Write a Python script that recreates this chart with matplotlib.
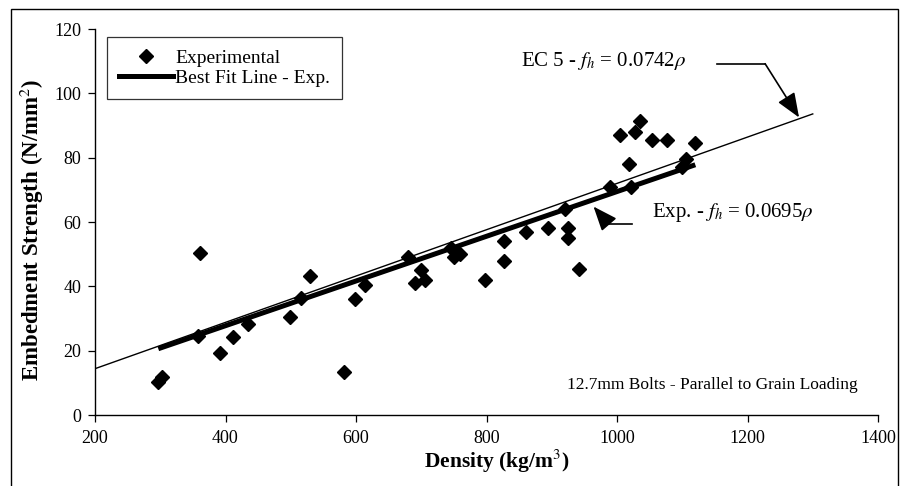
import matplotlib
matplotlib.use("Agg")
import matplotlib.pyplot as plt
from matplotlib.patches import Rectangle
from matplotlib.lines import Line2D

plt.rcParams['font.family'] = ['Liberation Serif', 'DejaVu Serif']
plt.rcParams['mathtext.fontset'] = 'stix'

# Experimental data: density (kg/m^3) and embedment strength (N/mm^2)
density = [296, 302, 358, 361, 392, 411, 435, 499, 515, 529, 582, 599, 614,
           680, 690, 700, 705, 745, 750, 760, 797, 827, 827, 861, 894, 921,
           925, 925, 941, 990, 1004, 1018, 1022, 1028, 1035, 1054, 1076,
           1100, 1105, 1120]
strength = [10.2, 11.8, 24.5, 50.3, 19.3, 24.3, 28.3, 30.4, 36.3, 43.2, 13.3,
            36.1, 40.3, 49.0, 41.0, 45.0, 42.0, 52.0, 49.0, 50.0, 42.0, 48.0,
            54.0, 57.0, 58.0, 64.0, 58.0, 55.0, 45.3, 71.0, 87.0, 78.0, 71.0,
            88.0, 91.5, 85.5, 85.5, 77.0, 79.5, 84.5]

# Lines
ec5_x = [200, 1300]
ec5_y = [14.4, 93.6]
fit_x = [297, 1120]
fit_y = [20.6, 77.8]

xticks = [200, 400, 600, 800, 1000, 1200, 1400]
yticks = [0, 20, 40, 60, 80, 100, 120]

fig = plt.figure(figsize=(9.04, 4.86), dpi=100)
ax = fig.add_axes([95/904, 1-415/486, (878-95)/904, (415-29)/486])

ax.plot(ec5_x, ec5_y, color='black', lw=1.0, zorder=2)
ax.plot(fit_x, fit_y, color='black', lw=3.6, zorder=3, solid_capstyle='butt')
ax.plot(density, strength, linestyle='none', marker='D', markersize=7.4,
        color='black', zorder=4)

ax.set_xlim(200, 1400)
ax.set_ylim(0, 120)
ax.set_xticks(xticks)
ax.set_yticks(yticks)
ax.tick_params(direction='out', length=5, width=0.9, labelsize=13, colors='black')
ax.tick_params(axis='x', pad=6)
ax.tick_params(axis='y', pad=5)
for s in ['top', 'right']:
    ax.spines[s].set_visible(False)
for s in ['left', 'bottom']:
    ax.spines[s].set_linewidth(1.0)

ax.set_xlabel('Density (kg/m$^3$)', fontsize=15.5, fontweight='bold')
ax.set_ylabel('Embedment Strength (N/mm$^2$)', fontsize=16.5, fontweight='bold')
ax.xaxis.set_label_coords(0.513, -0.085)
ax.yaxis.set_label_coords(-0.062, 0.48)

# Annotations
ax.text(853, 110, r'EC 5 - $f_h$ = 0.0742$\rho$', fontsize=15, va='center', ha='left')
ax.plot([1153, 1227], [109.2, 109.2], color='black', lw=1.2)
ax.annotate('', xy=(1279, 92.5), xytext=(1227, 109.2),
            arrowprops=dict(arrowstyle='-|>,head_length=1.5,head_width=0.6',
                            color='black', lw=1.2, shrinkA=0, shrinkB=0))

ax.text(1054, 63, r'Exp. - $f_h$ = 0.0695$\rho$', fontsize=15, va='center', ha='left')
ax.plot([987, 1023], [59.4, 59.4], color='black', lw=1.2)
ax.annotate('', xy=(964, 64.8), xytext=(987, 59.4),
            arrowprops=dict(arrowstyle='-|>,head_length=1.5,head_width=0.6',
                            color='black', lw=1.2, shrinkA=0, shrinkB=0))

ax.text(1369, 9.4, '12.7mm Bolts - Parallel to Grain Loading', fontsize=12.5,
        ha='right', va='center')

handles = [Line2D([], [], linestyle='none', marker='D', markersize=7.4, color='black'),
           Line2D([], [], color='black', lw=3.6)]
leg = ax.legend(handles, ['Experimental', 'Best Fit Line - Exp.'],
                loc='upper left', bbox_to_anchor=(0.0157, 0.9785), borderaxespad=0,
                fontsize=14, frameon=True, fancybox=False, handlelength=2.8,
                handletextpad=0.1, labelspacing=0.15, borderpad=0.6)
leg.get_frame().set_edgecolor('black')
leg.get_frame().set_linewidth(0.9)

# outer frame
fig.patches.append(Rectangle((11/904, -0.02), 887/904, 1-9/486+0.02,
                             transform=fig.transFigure, fill=False,
                             edgecolor='black', lw=1.0))

fig.savefig('out.png', dpi=100)
